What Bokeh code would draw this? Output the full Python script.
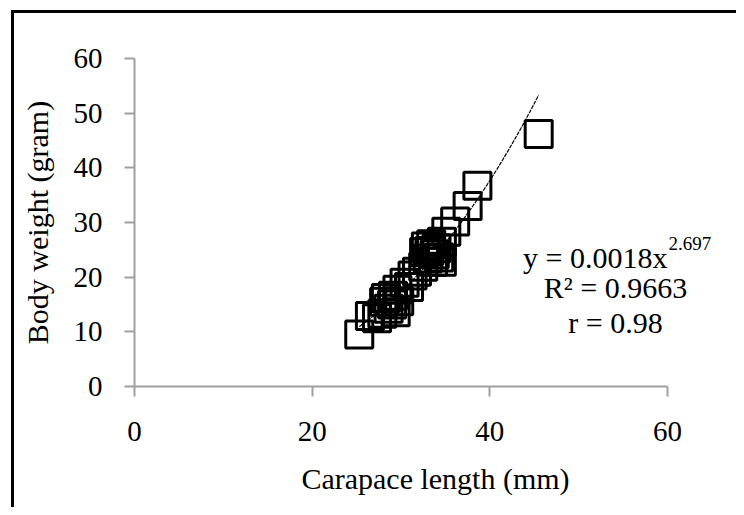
from bokeh.plotting import figure
from bokeh.layouts import column, row
from bokeh.models import FixedTicker, ColumnDataSource, Label, Spacer
from bokeh.embed import file_html
from bokeh.resources import INLINE
import numpy as np

# Data (carapace length mm, body weight g)
carapace_length = [25.3, 26.5, 27.3, 27.9, 28.1, 28.3, 28.6, 29.0, 29.1, 29.4, 29.6,
                   29.8, 30.4, 30.9, 31.3, 31.8, 32.5, 32.6, 32.8, 33.0, 33.2, 33.4,
                   33.6, 33.8, 34.0, 34.3, 34.6, 34.6, 35.1, 36.1, 37.5, 38.6, 45.5]
body_weight = [9.5, 12.9, 12.5, 13.3, 15.5, 16.2, 14.2, 15.0, 16.6, 13.6, 17.7,
               15.6, 19.0, 18.2, 20.3, 21.0, 21.9, 24.6, 25.6, 23.4, 24.8, 26.0,
               22.8, 24.2, 25.3, 23.6, 22.8, 26.5, 28.3, 30.2, 33.0, 36.7, 46.2]

# Power trendline stated on the chart: y = a * x^b
fit_a = 0.0018
fit_b = 2.697
eq_main = "y = 0.0018x"
eq_power = "2.697"
eq_r2 = "R\u00b2 = 0.9663"
eq_r = "r = 0.98"

x_ticks = [0, 20, 40, 60]
y_ticks = [0, 10, 20, 30, 40, 50, 60]
x_axis_max = 60

FONT = "Liberation Serif"
AXIS_GREY = "#a0a0a0"

W, H = 722, 494
BORDER_L = 120
AXIS_LEN_PX = 533          # pixel length of the 0..60 axis
# frame extends right of the axis end so that the equation text is not clipped
x_view_max = x_axis_max * (W - BORDER_L) / AXIS_LEN_PX

p = figure(width=W, height=H, output_backend="svg", toolbar_location=None,
           x_range=(0, x_view_max), y_range=(0, 60),
           min_border_left=BORDER_L, min_border_right=0,
           min_border_top=45, min_border_bottom=121)
p.outline_line_color = None
p.grid.visible = False
p.background_fill_color = "white"
p.border_fill_color = "white"

for ax in (p.xaxis, p.yaxis):
    ax.axis_line_color = AXIS_GREY
    ax.axis_line_width = 2
    ax.major_tick_line_color = AXIS_GREY
    ax.major_tick_line_width = 2
    ax.major_tick_in = 0
    ax.major_tick_out = 10
    ax.minor_tick_line_color = None
    ax.major_label_text_font = FONT
    ax.major_label_text_font_size = "29px"
    ax.major_label_text_color = "black"
    ax.axis_label_text_font = FONT
    ax.axis_label_text_font_size = "30px"
    ax.axis_label_text_font_style = "normal"
    ax.axis_label_text_color = "black"

p.xaxis.bounds = (0, x_axis_max)
p.xaxis.ticker = FixedTicker(ticks=x_ticks)
p.yaxis.ticker = FixedTicker(ticks=y_ticks)
p.xaxis.major_label_standoff = 25
p.yaxis.major_label_standoff = 22
p.xaxis.axis_label = "Carapace length (mm)"
p.yaxis.axis_label = "Body weight (gram)"
p.xaxis.axis_label_standoff = 18
p.yaxis.axis_label_standoff = 17

# Trendline across the data's x extent
xs = np.linspace(min(carapace_length), max(carapace_length), 200)
p.line(xs, fit_a * xs ** fit_b, line_color="black", line_width=1.2, line_dash="4 1")

src = ColumnDataSource(data=dict(x=carapace_length, y=body_weight))
p.scatter("x", "y", source=src, marker="square", size=27,
          fill_color=None, line_color="black", line_width=3)

# Equation text
def add_label(x, y, text, size, align):
    p.add_layout(Label(x=x, y=y, text=text, text_font=FONT, text_font_size=size,
                       text_align=align, text_baseline="alphabetic", text_color="black"))

add_label(60.0, 23.6, eq_main, "30px", "right")
add_label(60.1, 26.1, eq_power, "19px", "left")
add_label(54.15, 18.1, eq_r2, "30px", "center")
add_label(54.15, 11.7, eq_r, "30px", "center")

# Black frame lines (left and top) around the chart, built from layout spacers
black = {"background-color": "black"}
top_bar = Spacer(width=W + 3, height=3, styles=black)
left_bar = Spacer(width=3, height=H, styles=black)
inner = column(top_bar, row(left_bar, p, spacing=0), spacing=0)
layout = column(Spacer(width=W + 14, height=10),
                row(Spacer(width=11, height=H + 3), inner, spacing=0),
                spacing=0)

open("out.html", "w").write(file_html(layout, INLINE))
